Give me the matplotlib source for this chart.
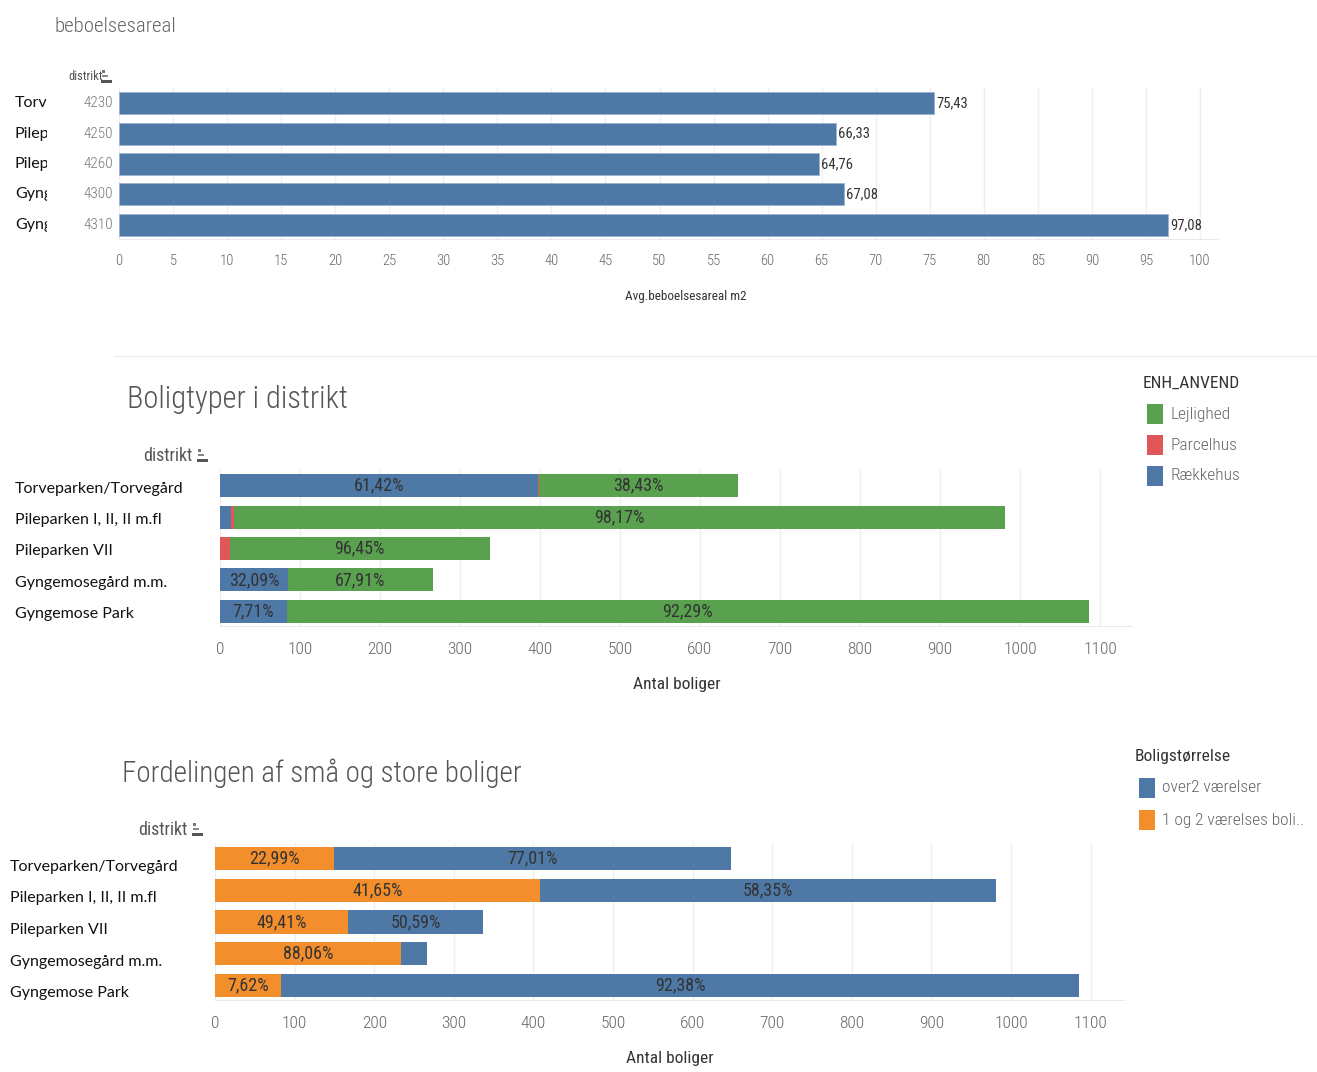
import numpy as np
import matplotlib
matplotlib.use('Agg')
import matplotlib.pyplot as plt
from matplotlib import font_manager
from matplotlib.transforms import blended_transform_factory, ScaledTranslation
from matplotlib.patches import Rectangle

# data
districts = ['Torveparken/Torvegård', 'Pileparken I, II, II m.fl', 'Pileparken VII',
             'Gyngemosegård m.m.', 'Gyngemose Park']
codes = ['4230', '4250', '4260', '4300', '4310']
avg_area = [75.43, 66.33, 64.76, 67.08, 97.08]
totals = [648, 981, 337, 266, 1086]
pct_raekkehus = [61.42, 1.40, 0.0, 32.09, 7.71]
pct_parcelhus = [0.15, 0.43, 3.55, 0.0, 0.0]
pct_lejlighed = [38.43, 98.17, 96.45, 67.91, 92.29]
pct_small = [22.99, 41.65, 49.41, 88.06, 7.62]
pct_large = [77.01, 58.35, 50.59, 11.94, 92.38]

BLUE, GREEN, RED, ORANGE = '#4e79a7', '#59a14f', '#e15759', '#f28e2b'

names = {f.name for f in font_manager.fontManager.ttflist}
NARROW = 'DejaVu Sans'
for cand in ['Liberation Sans Narrow', 'DejaVu Sans Condensed', 'Roboto Condensed']:
    if cand in names:
        NARROW = cand
        break
LABEL = 'Lato' if 'Lato' in names else 'DejaVu Sans'

W, H = 1317, 1072
fig = plt.figure(figsize=(W / 100, H / 100), dpi=100)


def box(x0, y0, x1, y1):
    return [x0 / W, 1 - y1 / H, (x1 - x0) / W, (y1 - y0) / H]


def ftext(x, y, s, **kw):
    fig.text(x / W, 1 - y / H, s, **kw)


def sort_icon(x, y):
    # little tableau sort glyph next to "distrikt"
    for dx, dy, w, h, c in [(0, 0, 3, 3, '#777'), (0, 5, 6, 2, '#888'), (-1, 10, 11, 3, '#555')]:
        fig.patches.append(Rectangle(((x + dx) / W, 1 - (y + dy + h) / H), w / W, h / H,
                                     transform=fig.transFigure, color=c, lw=0))


def pct_txt(p):
    return f'{p:.2f}'.replace('.', ',') + '%'


def row_labels(ax, x, shift):
    tr = blended_transform_factory(fig.transFigure, ax.transData)
    tr = tr + ScaledTranslation(0, -shift / 100, fig.dpi_scale_trans)
    for i, d in enumerate(districts):
        ax.text(x / W, i, d, transform=tr, va='center', ha='left', fontfamily=LABEL,
                fontsize=11.5, color='#111')


def style_axis(ax, xmax, ticks, size, pad):
    ax.set_xlim(0, xmax)
    ax.set_ylim(len(districts) - 0.5, -0.5)
    ax.set_xticks(ticks)
    ax.set_xticklabels([str(t) for t in ticks], fontfamily=NARROW, fontsize=size, color='#666',
                       fontweight='light')
    ax.set_yticks([])
    ax.tick_params(axis='x', length=0, pad=pad)
    for s in ax.spines.values():
        s.set_visible(False)
    ax.grid(axis='x', color='#efefef', lw=1)
    ax.set_axisbelow(True)
    ax.axhline(len(districts) - 0.5, color='#e8e8e8', lw=1.5)


y = np.arange(len(districts))

# ---- top chart: average area
ax1 = fig.add_axes(box(119, 88, 1219, 240))
ax1.barh(y, avg_area, height=0.73, color=BLUE, edgecolor='#9bb3cf', lw=0.6)
for i, v in enumerate(avg_area):
    ax1.text(v + 0.2, i, f'{v:.2f}'.replace('.', ','), va='center', ha='left',
             fontfamily=NARROW, fontsize=10.5, color='#333')
style_axis(ax1, 1100 / 10.81, list(range(0, 101, 5)), 10.5, 10)
ax1.set_xlabel('Avg.beboelsesareal m2', fontfamily=NARROW, fontsize=9.5, color='#333')
ax1.xaxis.set_label_coords((686 - 119) / 1100, -(298 - 240) / 152 + 0.05)
# clipped district names + codes
axl = fig.add_axes(box(0, 88, 47, 240))
axl.set_xlim(0, 47)
axl.set_ylim(len(districts) - 0.5, -0.5)
axl.axis('off')
for i, d in enumerate(districts):
    axl.text(15, i, d[:5], va='center', ha='left', fontfamily=LABEL, fontsize=11.5, color='#111',
             clip_on=True)
tr1 = blended_transform_factory(fig.transFigure, ax1.transData)
for i, c in enumerate(codes):
    ax1.text(113 / W, i, c, transform=tr1, va='center', ha='right', fontfamily=NARROW,
             fontsize=11, color='#777', fontweight='light')
ftext(55, 26, 'beboelsesareal', fontfamily=NARROW, fontsize=15, color='#666', va='center',
      fontweight='light')
ftext(68, 76, 'distrikt', fontfamily=NARROW, fontsize=9, color='#555', va='center')
sort_icon(102, 70)

fig.lines.append(plt.Line2D([115 / W, 1], [1 - 356 / H, 1 - 356 / H], transform=fig.transFigure,
                            color='#ececec', lw=1))

# ---- middle chart: housing types
ax2 = fig.add_axes(box(220, 470, 1133, 627))
left = np.zeros(len(districts))
for pcts, col in [(pct_raekkehus, BLUE), (pct_parcelhus, RED), (pct_lejlighed, GREEN)]:
    vals = np.array(totals) * np.array(pcts) / 100
    ax2.barh(y, vals, left=left, height=0.73, color=col, lw=0)
    for i, v in enumerate(vals):
        if v > 55:
            ax2.text(left[i] + v / 2, i, pct_txt(pcts[i]), ha='center', va='center',
                     fontfamily=NARROW, fontsize=13, color='#333')
    left += vals
style_axis(ax2, 913 / 0.8, list(range(0, 1101, 100)), 12.5, 11)
ax2.set_xlabel('Antal boliger', fontfamily=NARROW, fontsize=12.5, color='#333', labelpad=14)
row_labels(ax2, 15, 3)
ftext(127, 400, 'Boligtyper i distrikt', fontfamily=NARROW, fontsize=22, color='#555',
      va='center', fontweight='light')
ftext(143, 456, 'distrikt', fontfamily=NARROW, fontsize=13, color='#555', va='center')
sort_icon(198, 449)

ftext(1143, 383, 'ENH_ANVEND', fontfamily=NARROW, fontsize=12.5, color='#333', va='center')
for k, (lab, col) in enumerate([('Lejlighed', GREEN), ('Parcelhus', RED), ('Rækkehus', BLUE)]):
    yy = 414 + 31 * k
    fig.patches.append(Rectangle((1147 / W, 1 - (yy + 10) / H), 16 / W, 20 / H,
                                 transform=fig.transFigure, color=col, lw=0))
    ftext(1170, yy, lab, fontfamily=NARROW, fontsize=12.5, color='#666', va='center',
          fontweight='light')

# ---- bottom chart: small vs large homes
ax3 = fig.add_axes(box(215, 843, 1125, 1001))
left = np.zeros(len(districts))
for pcts, col in [(pct_small, ORANGE), (pct_large, BLUE)]:
    vals = np.array(totals) * np.array(pcts) / 100
    ax3.barh(y, vals, left=left, height=0.73, color=col, lw=0)
    for i, v in enumerate(vals):
        if v > 55:
            ax3.text(left[i] + v / 2, i, pct_txt(pcts[i]), ha='center', va='center',
                     fontfamily=NARROW, fontsize=13, color='#333')
    left += vals
style_axis(ax3, 910 / 0.796, list(range(0, 1101, 100)), 12.5, 11)
ax3.set_xlabel('Antal boliger', fontfamily=NARROW, fontsize=12.5, color='#333', labelpad=14)
row_labels(ax3, 10, 8)
ftext(122, 773, 'Fordelingen af små og store boliger', fontfamily=NARROW, fontsize=21,
      color='#555', va='center', fontweight='light')
ftext(138, 830, 'distrikt', fontfamily=NARROW, fontsize=13, color='#555', va='center')
sort_icon(193, 823)

ftext(1135, 757, 'Boligstørrelse', fontfamily=NARROW, fontsize=12.5, color='#333', va='center')
for k, (lab, col) in enumerate([('over2 værelser', BLUE), ('1 og 2 værelses boli..', ORANGE)]):
    yy = 788 + 32 * k
    fig.patches.append(Rectangle((1139 / W, 1 - (yy + 10) / H), 16 / W, 20 / H,
                                 transform=fig.transFigure, color=col, lw=0))
    ftext(1162, yy, lab, fontfamily=NARROW, fontsize=12.5, color='#666', va='center',
          fontweight='light')

fig.savefig('out.png', dpi=100)
